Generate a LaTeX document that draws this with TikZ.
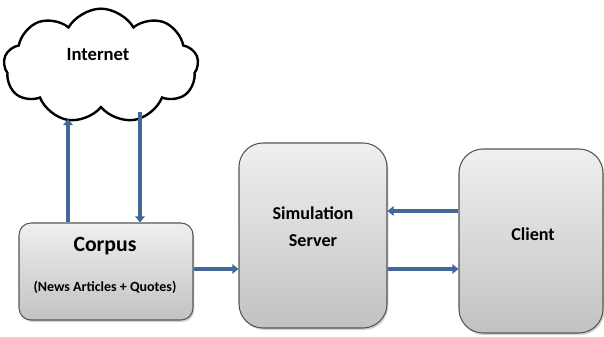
\documentclass[tikz,border=0pt]{standalone}
\usepackage{fontspec}
\setmainfont{Carlito}
\usetikzlibrary{shapes.symbols,arrows.meta,shadows}
\definecolor{flowblue}{RGB}{66,104,152}
\definecolor{boxedge}{RGB}{85,85,85}
\tikzset{
  block/.style={draw=boxedge, line width=0.8pt, top color=black!6, bottom color=black!24,
    drop shadow={shadow xshift=1pt, shadow yshift=-1.5pt, opacity=0.35}},
  flow/.style={draw=flowblue, line width=3pt, -{Triangle[length=4.5pt,width=7pt]}},
  label/.style={font=\bfseries, inner sep=0pt},
}
\begin{document}
\begin{tikzpicture}[x=0.75pt, y=-0.75pt]
\useasboundingbox (0,0) rectangle (604,336);
% the three processing blocks
\node[block, rounded corners=9pt, minimum width=130.5pt, minimum height=72.75pt] (corpus) at (106,271.5) {};
\node[block, rounded corners=18pt, minimum width=111pt, minimum height=138.75pt] (server) at (313,235.5) {};
\node[block, rounded corners=18pt, minimum width=108pt, minimum height=138pt] (client) at (531,241) {};
% data source
\node[cloud, draw=black, line width=1.8pt, fill=white, cloud puffs=9, cloud puff arc=120,
  minimum width=146pt, minimum height=86pt, aspect=1.7] (net) at (101,66) {};
% texts
\node[label, font=\bfseries\fontsize{14}{16}\selectfont] (nettext) at (98,55) {Internet};
\node[label, font=\bfseries\fontsize{16.3}{18}\selectfont] (corpustext) at (105,246) {Corpus};
\node[label, font=\bfseries\fontsize{10.5}{12}\selectfont] (corpussub) at (105,287) {(News Articles + Quotes)};
\node[label, font=\bfseries\fontsize{13.6}{20.5}\selectfont, align=center] (servertext) at (313,227) {Simulation\\Server};
\node[label, font=\bfseries\fontsize{13.6}{16}\selectfont] (clienttext) at (533,234) {Client};
% cloud attachment points
\coordinate (upend) at (68,119);
\coordinate (downstart) at (140,112);
% connectors
\draw[flow] (corpus.north -| upend) -- (upend);
\draw[flow] (downstart) -- (corpus.north -| downstart);
\draw[flow] (corpus.east |- 0,269) -- (server.west |- 0,269);
\draw[flow] (client.west |- 0,211) -- (server.east |- 0,211);
\draw[flow] (server.east |- 0,269) -- (client.west |- 0,269);
\end{tikzpicture}
\end{document}
